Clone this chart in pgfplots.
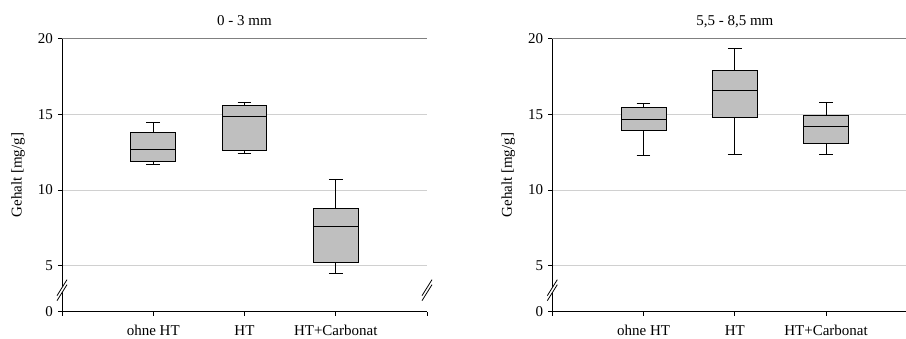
\documentclass[border=0pt]{standalone}
\usepackage{fontspec}
\setmainfont{Liberation Serif}
\usepackage{pgfplots}
\pgfplotsset{compat=1.18}
\usepgfplotslibrary{statistics}
\definecolor{boxfill}{RGB}{191,191,191}
\definecolor{gridc}{RGB}{208,208,208}
\definecolor{framec}{RGB}{128,128,128}
\pgfplotsset{
 panel/.style={
  scale only axis, width=365pt, height=273pt,
  xmin=0, xmax=4, ymin=1.958, ymax=20,
  axis lines*=left,
  axis line style={black, line width=0.9pt},
  xtick={0,1,2,3,4}, xticklabels={,ohne HT,HT,HT+Carbonat,},
  ytick={1.958,5,10,15,20}, yticklabels={0,5,10,15,20},
  tick align=outside, major tick length=4pt,
  tick style={black, line width=0.8pt},
  ymajorgrids, grid style={gridc, line width=0.8pt},
  ylabel={Gehalt [mg/g]},
  ylabel style={at={(axis description cs:-0.1205,0.5)}, anchor=center},
  every axis title/.style={at={(axis description cs:0.5,1)}, anchor=base, yshift=13pt},
  xticklabel style={anchor=base, yshift=-20pt},
  boxplot/draw direction=y,
 },
 bx/.style={draw=black, fill=boxfill, line width=0.8pt, solid},
}
\begin{document}
\fontsize{15}{18}\selectfont
\begin{tikzpicture}
\begin{axis}[panel, title={0 - 3 mm}, at={(0pt,0pt)}]
\addplot[bx, boxplot prepared={lower whisker=11.71, lower quartile=11.89, median=12.69, upper quartile=13.78, upper whisker=14.49, draw position=1, box extend=0.49, whisker extend=0.15}] coordinates {};
\addplot[bx, boxplot prepared={lower whisker=12.39, lower quartile=12.59, median=14.89, upper quartile=15.57, upper whisker=15.77, draw position=2, box extend=0.49, whisker extend=0.15}] coordinates {};
\addplot[bx, boxplot prepared={lower whisker=4.48, lower quartile=5.21, median=7.59, upper quartile=8.78, upper whisker=10.68, draw position=3, box extend=0.49, whisker extend=0.15}] coordinates {};
\draw[framec, line width=0.9pt] (rel axis cs:0,1) -- (rel axis cs:1,1) -- (rel axis cs:1,0);
\coordinate (LB1) at (axis cs:0,3.38);
\coordinate (LB2) at (axis cs:4,3.38);
\end{axis}
\begin{axis}[panel, title={5,5 - 8,5 mm}, at={(490.3pt,0pt)}]
\addplot[bx, boxplot prepared={lower whisker=12.29, lower quartile=13.96, median=14.69, upper quartile=15.48, upper whisker=15.70, draw position=1, box extend=0.49, whisker extend=0.15}] coordinates {};
\addplot[bx, boxplot prepared={lower whisker=12.37, lower quartile=14.80, median=16.59, upper quartile=17.88, upper whisker=19.38, draw position=2, box extend=0.49, whisker extend=0.15}] coordinates {};
\addplot[bx, boxplot prepared={lower whisker=12.37, lower quartile=13.10, median=14.18, upper quartile=14.93, upper whisker=15.77, draw position=3, box extend=0.49, whisker extend=0.15}] coordinates {};
\draw[framec, line width=1.1pt] (rel axis cs:0,1) -- (rel axis cs:1,1) -- (rel axis cs:1,0);
\coordinate (RB1) at (axis cs:0,3.38);
\end{axis}
\foreach \c in {LB1,LB2,RB1} {
 \fill[white] ([shift={(-5pt,-10.5pt)}]\c) -- ([shift={(5pt,5.5pt)}]\c) -- ([shift={(5pt,10.5pt)}]\c) -- ([shift={(-5pt,-5.5pt)}]\c) -- cycle;
 \draw[black, line width=0.8pt] ([shift={(-5pt,-10.5pt)}]\c) -- ([shift={(5pt,5.5pt)}]\c);
 \draw[black, line width=0.8pt] ([shift={(-5pt,-5.5pt)}]\c) -- ([shift={(5pt,10.5pt)}]\c);
}
\pgfresetboundingbox
\path (-62pt,-26.3pt) rectangle (844pt,311.7pt);
\end{tikzpicture}
\end{document}
